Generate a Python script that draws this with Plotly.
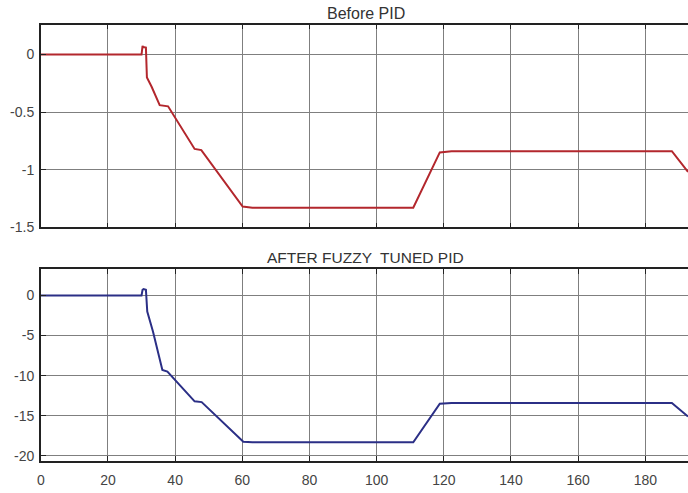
import plotly.graph_objects as go

# Before PID (red) response
x_before = [0, 30.0, 30.3, 30.5, 31.3, 31.5, 31.6, 33.0, 35.4, 37.9, 45.8, 47.8, 60.1, 63.0, 110.9, 118.8, 122.3, 187.9, 192.7]
y_before = [0, 0.0, 0.075, 0.065, 0.06, -0.10, -0.20, -0.28, -0.44, -0.45, -0.82, -0.83, -1.32, -1.33, -1.33, -0.85, -0.84, -0.84, -1.02]

# After fuzzy tuned PID (blue) response
x_after = [0, 30.0, 30.3, 30.6, 31.3, 31.5, 31.7, 33.4, 36.2, 37.7, 45.8, 47.9, 60.3, 63.0, 110.9, 118.8, 122.3, 187.9, 192.7]
y_after = [0, 0.0, 0.7, 0.8, 0.7, -1.0, -2.0, -4.5, -9.3, -9.5, -13.2, -13.3, -18.25, -18.3, -18.3, -13.5, -13.4, -13.4, -15.1]

x_ticks = [0, 20, 40, 60, 80, 100, 120, 140, 160, 180]
top_yticks = [0, -0.5, -1, -1.5]
top_yticklabels = ["0", "-0.5", "-1", "-1.5"]
bot_yticks = [0, -5, -10, -15, -20]
bot_yticklabels = ["0", "-5", "-10", "-15", "-20"]

W, H = 688, 493
x0 = 37 / W
FONT = "Liberation Sans, Arial"
fig = go.Figure()
fig.add_trace(go.Scatter(x=x_before, y=y_before, mode="lines",
                         line=dict(color="#b3272d", width=2), xaxis="x", yaxis="y", showlegend=False))
fig.add_trace(go.Scatter(x=x_after, y=y_after, mode="lines",
                         line=dict(color="#2b2f86", width=2), xaxis="x2", yaxis="y2", showlegend=False))

common_x = dict(range=[0, 192.7], tickvals=x_ticks, showgrid=True, gridcolor="#7f7f7f", gridwidth=1,
                showline=True, linecolor="#222", linewidth=1.5, mirror="ticks", ticks="inside",
                ticklen=5, tickcolor="#222", zeroline=False, domain=[x0, 1],
                tickfont=dict(family=FONT, size=14, color="#444"))
common_y = dict(showgrid=True, gridcolor="#7f7f7f", gridwidth=1, showline=True, linecolor="#222",
                linewidth=1.5, mirror=False, ticks="inside", ticklen=5, tickcolor="#222", zeroline=False,
                ticklabelstandoff=2,
                tickfont=dict(family=FONT, size=14, color="#444"))

fig.update_layout(
    width=W, height=H, margin=dict(l=0, r=0, t=0, b=0),
    plot_bgcolor="white", paper_bgcolor="white",
    xaxis=dict(**common_x, anchor="y", showticklabels=False),
    yaxis=dict(**common_y, anchor="x", domain=[1 - 231 / H, 1 - 25 / H], range=[-1.5, 0.26],
               tickvals=top_yticks, ticktext=top_yticklabels),
    xaxis2=dict(**common_x, anchor="y2", ticklabelstandoff=6),
    yaxis2=dict(**common_y, anchor="x2", domain=[1 - 468.3 / H, 1 - 273.7 / H], range=[-20.6, 3.26],
                tickvals=bot_yticks, ticktext=bot_yticklabels),
    annotations=[
        dict(text="Before PID", x=364 / W, y=1 - 14 / H, xref="paper", yref="paper", showarrow=False,
             font=dict(family=FONT, size=16, color="#333"), xanchor="center", yanchor="middle"),
        dict(text="AFTER FUZZY  TUNED PID", x=364 / W, y=1 - 262 / H, xref="paper", yref="paper", showarrow=False,
             font=dict(family=FONT, size=15.5, color="#333"), xanchor="center", yanchor="middle"),
    ],
)
fig.write_html("out.html")
